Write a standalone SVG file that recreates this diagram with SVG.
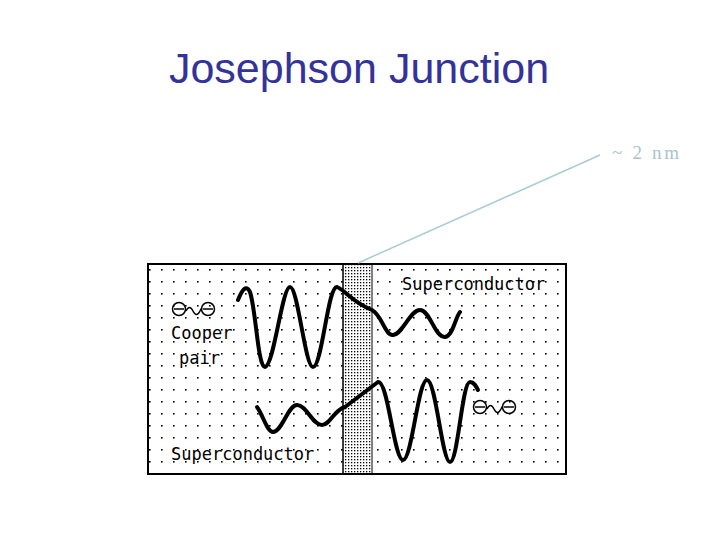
<svg xmlns="http://www.w3.org/2000/svg" width="720" height="540" viewBox="0 0 720 540">
<style>
.lbl{font-family:"DejaVu Sans Mono","Liberation Mono",monospace;font-size:17px;fill:#000}
.wave{fill:none;stroke:#000;stroke-width:4;stroke-linejoin:round;stroke-linecap:round}
.sym{fill:none;stroke:#000;stroke-width:1.5}
</style>
<defs>
<pattern id="dots" width="12" height="12" patternUnits="userSpaceOnUse"><rect x="5" y="5" width="1.6" height="1.6" fill="#000"/></pattern>
<pattern id="fine" width="3" height="3" patternUnits="userSpaceOnUse"><rect width="3" height="3" fill="#fff"/><rect x="0" y="0" width="1.3" height="1.3" fill="#000"/></pattern>
<g id="pairsym"><circle cx="7" cy="7" r="6.5" class="sym"/><line x1="2" y1="7" x2="12" y2="7" class="sym"/><path d="M14 9 q3.5 -7 7 0 t7 0 q1 -3 2 -2" class="sym"/><circle cx="36" cy="7" r="6.5" class="sym"/><line x1="31" y1="7" x2="41" y2="7" class="sym"/></g>
</defs>
<rect width="720" height="540" fill="#fff"/>
<text x="359" y="83" text-anchor="middle" font-family="Liberation Sans,Arial,sans-serif" font-size="43" fill="#333399">Josephson Junction</text>
<g id="annotation">
<text x="612" y="159" font-family="Liberation Serif,serif" font-size="19" fill="#a8c4cc" textLength="67">~ 2 nm</text>
</g>
<g id="junction">
<rect x="148" y="264" width="418" height="210" fill="#fff"/>
<rect x="148" y="264" width="418" height="210" fill="url(#dots)"/>
<rect x="343" y="264" width="29" height="210" fill="url(#fine)"/>
<line x1="343" y1="264" x2="343" y2="474" stroke="#000" stroke-width="1.5"/>
<line x1="372" y1="264" x2="372" y2="474" stroke="#000" stroke-width="1"/>
<rect x="148" y="264" width="418" height="210" fill="none" stroke="#000" stroke-width="2"/>
</g>
<g id="connectors">
<line x1="600" y1="155" x2="358" y2="263" stroke="#a8ccd6" stroke-width="1.5"/>
</g>
<g id="waves">
<path class="wave" d="M238 300 C242 290 246 284 250 292 C256 310 258 368 265 367 C274 366 282 287 290 287 C298 287 305 367 313 367 C322 367 328 285 337 287 C345 290 352 302 372 310 C382 315 385 336 393 335 C403 334 410 310 420 310 C430 310 435 338 445 337 C453 336 455 318 460 312"/>
<path class="wave" d="M257 407 C263 415 267 432 273 432 C282 432 288 405 297 405 C307 405 312 425 322 425 C330 425 334 410 345 407 L378 382 C388 380 394 460 403 460 C412 460 418 380 427 380 C436 380 442 462 450 462 C458 462 462 382 470 382 C474 382 476 386 478 390"/>
</g>
<g id="labels">
<text class="lbl" x="402" y="290">Superconductor</text>
<text class="lbl" x="171" y="460">Superconductor</text>
<text class="lbl" x="171" y="339">Cooper</text>
<text class="lbl" x="179" y="364">pair</text>
<use href="#pairsym" x="172" y="302"/>
<use href="#pairsym" x="473" y="400"/>
</g>
</svg>
